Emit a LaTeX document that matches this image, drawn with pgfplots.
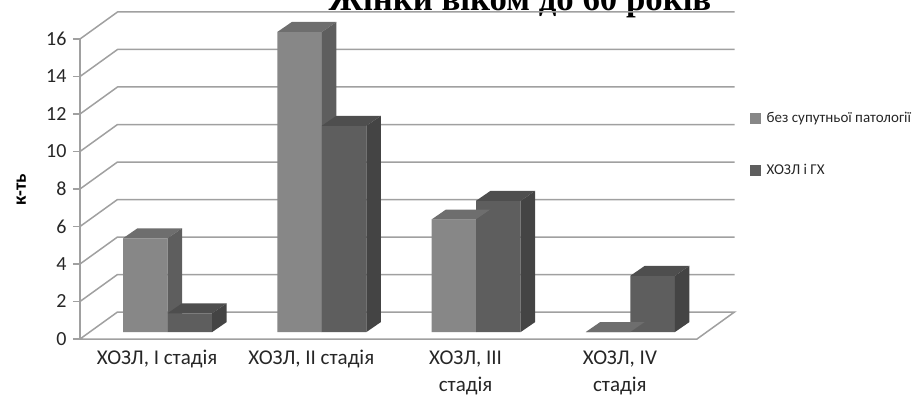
\documentclass[border=0pt]{standalone}
\usepackage{pgfplots}
\usepackage{pgfplotstable}
\pgfplotsset{compat=1.18}
\usepackage{fontspec}
\setmainfont{Carlito}
\newfontfamily\titlefont{Liberation Serif}
\definecolor{gridc}{HTML}{A0A0A0}
\definecolor{lf}{HTML}{878787}
\definecolor{lt}{HTML}{6E6E6E}
\definecolor{ls}{HTML}{5E5E5E}
\definecolor{df}{HTML}{5E5E5E}
\definecolor{dt}{HTML}{4E4E4E}
\definecolor{ds}{HTML}{444444}

\pgfplotstableread{
x y
0 5
1 16
2 6
3 0
}\seriesA
\pgfplotstableread{
x y
0 1
1 11
2 7
3 3
}\seriesB

% 3D top and side faces of a bar, height taken from the data value
\pgfdeclareplotmark{boxL}{%
  \pgfmathsetmacro{\hb}{10-\barval*18.75}%
  \pgfsetfillcolor{lt}%
  \pgfpathmoveto{\pgfpoint{-44.6pt}{0pt}}%
  \pgfpathlineto{\pgfpoint{0pt}{0pt}}%
  \pgfpathlineto{\pgfpoint{14.5pt}{10pt}}%
  \pgfpathlineto{\pgfpoint{-30.1pt}{10pt}}%
  \pgfpathclose\pgfusepath{fill}%
  \pgfsetfillcolor{ls}%
  \pgfpathmoveto{\pgfpoint{0pt}{0pt}}%
  \pgfpathlineto{\pgfpoint{14.5pt}{10pt}}%
  \pgfpathlineto{\pgfpoint{14.5pt}{\hb pt}}%
  \pgfpathlineto{\pgfpoint{0pt}{-\barval*18.75pt}}%
  \pgfpathclose\pgfusepath{fill}%
}
\pgfdeclareplotmark{boxR}{%
  \pgfmathsetmacro{\hb}{10-\barval*18.75}%
  \pgfsetfillcolor{dt}%
  \pgfpathmoveto{\pgfpoint{0pt}{0pt}}%
  \pgfpathlineto{\pgfpoint{44.6pt}{0pt}}%
  \pgfpathlineto{\pgfpoint{59.1pt}{10pt}}%
  \pgfpathlineto{\pgfpoint{14.5pt}{10pt}}%
  \pgfpathclose\pgfusepath{fill}%
  \pgfsetfillcolor{ds}%
  \pgfpathmoveto{\pgfpoint{44.6pt}{0pt}}%
  \pgfpathlineto{\pgfpoint{59.1pt}{10pt}}%
  \pgfpathlineto{\pgfpoint{59.1pt}{\hb pt}}%
  \pgfpathlineto{\pgfpoint{44.6pt}{-\barval*18.75pt}}%
  \pgfpathclose\pgfusepath{fill}%
}

\begin{document}
\begin{tikzpicture}
\useasboundingbox (0,0) rectangle (917pt,405pt);
\clip (0,0) rectangle (917pt,405pt);
\node[anchor=base, font=\titlefont\bfseries\fontsize{34.8}{36}\selectfont] at (520pt,394pt) {Жінки віком до 60 років};
% front plane: walls, floor, ticks, labels, first legend row
\begin{axis}[
  at={(80pt,66pt)}, anchor=south west,
  scale only axis, width=617pt, height=300pt,
  xmin=-0.5, xmax=3.5, ymin=0, ymax=16,
  clip=false,
  axis line style={draw=none},
  xtick={0,1,2,3},
  xticklabels={{ХОЗЛ, I стадія},{ХОЗЛ, II стадія},{ХОЗЛ, III\\стадія},{ХОЗЛ, IV\\стадія}},
  xticklabel style={align=center, font=\fontsize{21}{27}\selectfont, text=black!85, yshift=-1pt},
  xtick style={draw=none},
  ytick={0,2,...,16},
  ytick pos=left,
  tick align=outside,
  major tick length=7pt,
  ytick style={gridc, line width=1.5pt},
  yticklabel style={font=\fontsize{20}{22}\selectfont, text=black!85, xshift=-3pt},
  /pgf/number format/assume math mode=true,
  ylabel={к-ть},
  ylabel style={at={(axis description cs:-0.095,0.497)}, anchor=center, font=\bfseries\fontsize{19}{20}\selectfont},
  legend style={at={(1.086,0.737)}, anchor=west, draw=none, fill=none, inner sep=0pt,
    font=\fontsize{15}{17}\selectfont, text=black!85},
  legend cell align=left,
]
\filldraw[fill=white, draw=gridc, line width=1.5pt]
  (axis cs:-0.5,0) -- (axis cs:3.5,0) -- ([shift={(37.5pt,27pt)}]axis cs:3.5,0)
  -- ([shift={(37.5pt,27pt)}]axis cs:-0.5,0) -- cycle;
\pgfplotsinvokeforeach{2,4,6,8,10,12,14,16}{
  \draw[gridc, line width=1.5pt] (axis cs:-0.5,#1) -- ([shift={(37.5pt,27pt)}]axis cs:-0.5,#1)
     -- ([shift={(37.5pt,27pt)}]axis cs:3.5,#1);
}
\draw[gridc, line width=1.5pt] (axis cs:-0.5,0) -- (axis cs:-0.5,16);
\addlegendimage{legend image code/.code={\fill[lf] (0pt,-5pt) rectangle (10pt,5pt); \path (14pt,0pt);}}
\addlegendentry{без супутньої патології}
\end{axis}
% bars plane (mid-depth), second legend row
\begin{axis}[
  at={(90.5pt,73pt)}, anchor=south west,
  scale only axis, width=617pt, height=300pt,
  xmin=-0.5, xmax=3.5, ymin=0, ymax=16,
  clip=false, hide axis,
  legend style={at={(1.069,0.54)}, anchor=west, draw=none, fill=none, inner sep=0pt,
    font=\fontsize{15}{17}\selectfont, text=black!85},
  legend cell align=left,
]
\addplot[forget plot, ybar, bar width=44.6pt, bar shift=-22.3pt, fill=lf, draw=none] table[x=x,y=y]{\seriesA};
\addplot[forget plot, scatter, only marks, mark=boxL, point meta=y,
  visualization depends on={rawy \as \barval}] table[x=x,y=y]{\seriesA};
\addplot[forget plot, ybar, bar width=44.6pt, bar shift=22.3pt, fill=df, draw=none] table[x=x,y=y]{\seriesB};
\addplot[forget plot, scatter, only marks, mark=boxR, point meta=y,
  visualization depends on={rawy \as \barval}] table[x=x,y=y]{\seriesB};
\addlegendimage{legend image code/.code={\fill[df] (0pt,-5pt) rectangle (10pt,5pt); \path (14pt,0pt);}}
\addlegendentry{ХОЗЛ і ГХ}
\end{axis}
\end{tikzpicture}
\end{document}
